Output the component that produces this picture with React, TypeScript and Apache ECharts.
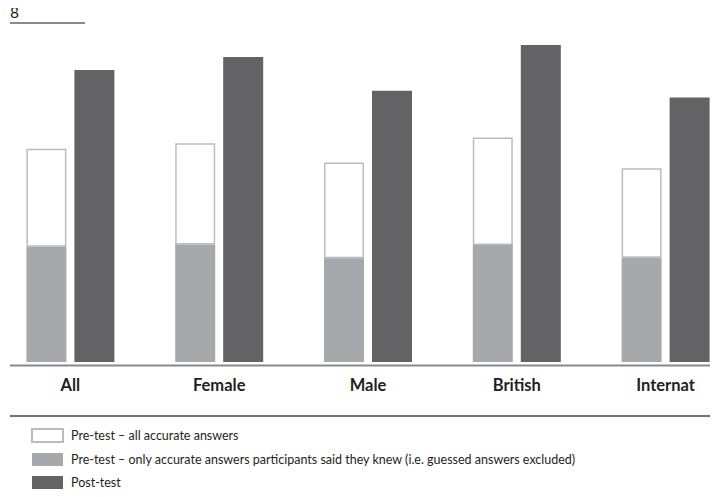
import React, { useEffect, useRef } from "react";
import * as echarts from "echarts";

const categories = ["All", "Female", "Male", "British", "Internat"];
const preAll = [5.03, 5.16, 4.71, 5.3, 4.57];
const preKnown = [2.72, 2.77, 2.45, 2.76, 2.46];
const post = [6.89, 7.2, 6.4, 7.48, 6.24];
const yTickLabels = ["8"];

const NAME_ALL = "Pre-test – all accurate answers";
const NAME_KNOWN =
  "Pre-test – only accurate answers participants said they knew (i.e. guessed answers excluded)";
const NAME_POST = "Post-test";

export default function App() {
  const ref = useRef<HTMLDivElement>(null);
  useEffect(() => {
    if (!ref.current) return;
    const chart = echarts.init(ref.current, undefined, { renderer: "svg" });
    const font = "Lato, 'Open Sans', sans-serif";
    chart.setOption({
      animation: false,
      grid: {
        left: -4,
        width: 744,
        top: 23,
        bottom: 135,
        containLabel: false,
        outerBoundsMode: "none",
      },
      xAxis: {
        type: "category",
        data: categories,
        axisLine: { show: false },
        axisTick: { show: false },
        axisLabel: {
          margin: 14,
          fontFamily: font,
          fontWeight: "bold",
          fontSize: 16.5,
          color: "#231f20",
        },
      },
      yAxis: {
        type: "value",
        min: 0,
        max: 8,
        interval: 8,
        splitLine: { show: false },
        axisLine: { show: false },
        axisTick: { show: false },
        axisLabel: {
          inside: true,
          margin: 14,
          verticalAlign: "bottom",
          padding: [0, 0, 3, 0],
          fontFamily: font,
          fontSize: 15.5,
          color: "#231f20",
          formatter: (v: number) => (yTickLabels.includes(String(v)) ? String(v) : ""),
        },
      },
      legend: {
        orient: "vertical",
        left: 31,
        top: 428,
        height: 66,
        padding: 0,
        itemWidth: 31,
        itemHeight: 13,
        itemGap: 10,
        icon: "rect",
        textStyle: {
          fontFamily: font,
          fontSize: 12.5,
          color: "#231f20",
          padding: [0, 0, 0, 3],
        },
        data: [
          { name: NAME_ALL },
          { name: NAME_KNOWN },
          { name: NAME_POST },
        ],
      },
      graphic: [
        {
          type: "line",
          shape: { x1: 10, y1: 23, x2: 85, y2: 23 },
          style: { stroke: "#8a8a8a", lineWidth: 2 },
        },
        {
          type: "line",
          shape: { x1: 10, y1: 365.5, x2: 718, y2: 365.5 },
          style: { stroke: "#8a8a8a", lineWidth: 2 },
        },
        {
          type: "line",
          shape: { x1: 10, y1: 416, x2: 718, y2: 416 },
          style: { stroke: "#444446", lineWidth: 1.5 },
        },
        {
          type: "line",
          shape: { x1: 10, y1: 493, x2: 718, y2: 493 },
          style: { stroke: "#c8c8ca", lineWidth: 1.5 },
        },
      ],
      series: [
        {
          name: NAME_KNOWN,
          type: "bar",
          stack: "pre",
          barWidth: 40,
          barGap: "20%",
          z: 3,
          data: preKnown,
          itemStyle: { color: "#a7a8ab" },
        },
        {
          name: NAME_ALL,
          type: "bar",
          stack: "pre",
          barWidth: 40,
          barGap: "20%",
          z: 2,
          data: preAll.map((v, i) => +(v - preKnown[i]).toFixed(3)),
          itemStyle: { color: "#ffffff", borderColor: "#bcbcbe", borderWidth: 1.5 },
        },
        {
          name: NAME_POST,
          type: "bar",
          barWidth: 40,
          barGap: "20%",
          data: post,
          itemStyle: { color: "#636365" },
        },
      ],
    });
    return () => chart.dispose();
  }, []);
  return <div ref={ref} style={{ width: 718, height: 497, margin: -8 }} />;
}
